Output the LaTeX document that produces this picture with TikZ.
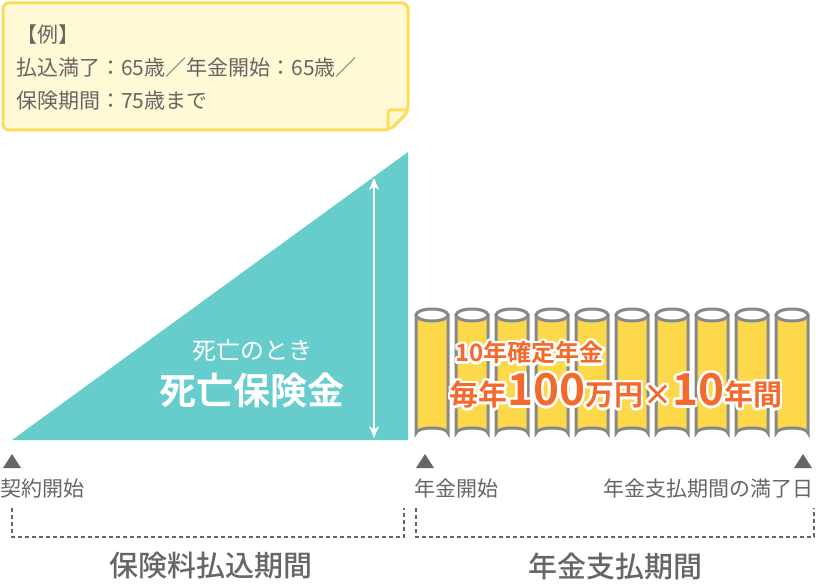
\documentclass[tikz,border=0pt]{standalone}
\usepackage{fontspec}
\setmainfont{Noto Sans CJK JP}
\newfontfamily\cjkbold{Noto Sans CJK JP Bold}
\newfontfamily\cjkmed{Noto Sans CJK JP Medium}
\usepackage{xcolor}
\usepackage[copies]{contour}
\contournumber{16}
\contourlength{2.5pt}
\usetikzlibrary{positioning,arrows.meta}
\definecolor{teal}{HTML}{66CCCC}
\definecolor{gold}{HTML}{FDD84A}
\definecolor{line}{HTML}{888888}
\definecolor{txt}{HTML}{666666}
\definecolor{memo}{HTML}{FFF9D6}
\definecolor{memoline}{HTML}{FCDD5A}
\definecolor{orange}{HTML}{F26A2E}

\begin{document}
\begin{tikzpicture}[x=1pt,y=-1pt,
  label/.style={font=\fontsize{21}{21}\selectfont, text=txt, inner sep=0pt},
  period/.style={font=\fontsize{29}{29}\selectfont\cjkmed, text=txt, inner sep=0pt},
  tick/.style={fill=txt},
  bracket/.style={draw=txt, dash pattern=on 4pt off 3pt, line width=1.3pt},
  coin/.style={draw=line, line width=3pt, fill=gold}
]
\useasboundingbox (0,0) rectangle (816,585);

% Example memo
\draw[memoline, line width=3pt, fill=memo, rounded corners=6pt]
  (3,3) -- (408,3) -- (408,112) -- (390,130) -- (3,130) -- cycle;
\draw[memoline, line width=3pt, rounded corners=3pt] (408,110) -- (388,110) -- (388,130);
\draw[memoline, line width=3pt, line cap=round] (394,126) -- (406,114);
\node[label, anchor=west, align=left, font=\fontsize{21}{33}\selectfont] (memo) at (16,68)
  {【例】\\払込満了：65歳／年金開始：65歳／\\保険期間：75歳まで};

% Death benefit triangle
\fill[teal] (12,440) -- (408,152) -- (408,440) -- cycle;
\coordinate (atop) at (374,178);
\coordinate (abot) at (374,438);
\draw[white, line width=2.5pt, {Stealth[length=12pt,width=10pt]}-{Stealth[length=12pt,width=10pt]}] (atop) -- (abot);
\node[font=\fontsize{24}{24}\selectfont, text=white] (death) at (252,350) {死亡のとき};
\node[font=\fontsize{37}{37}\selectfont\cjkbold, text=white, below=5pt of death] (benefit) {死亡保険金};

% Annuity coins
\foreach \i in {0,...,9} {
  \pgfmathsetmacro{\cx}{432+40*\i}
  \draw[coin] (\cx-16,315) -- (\cx-16,433) arc[start angle=180, end angle=360, x radius=16, y radius=5]
    -- (\cx+16,315);
  \draw[coin, fill=white] (\cx,315) ellipse[x radius=16, y radius=6];
}
\node[font=\fontsize{24}{24}\selectfont\cjkbold, text=orange, anchor=west] (sure) at (452,354)
  {\contour{white}{10年確定年金}};
\node[font=\fontsize{29}{29}\selectfont\cjkbold, text=orange, anchor=west] (amount) at (446,392)
  {\contour{white}{毎年}\contour{white}{\fontsize{44}{44}\selectfont 100}\contour{white}{万円×}\contour{white}{\fontsize{44}{44}\selectfont 10}\contour{white}{年間}};

% Time marks
\fill[tick] (3,468) -- (21,468) -- (12,454) -- cycle;
\fill[tick] (416,468) -- (434,468) -- (425,454) -- cycle;
\fill[tick] (794,468) -- (812,468) -- (803,454) -- cycle;
\node[label, anchor=west] (start) at (0,489) {契約開始};
\node[label, anchor=west] (annstart) at (414,489) {年金開始};
\node[label, anchor=east] (annend) at (814,489) {年金支払期間の満了日};

% Periods
\draw[bracket] (12,508) -- (12,537) -- (404,537) -- (404,508);
\draw[bracket] (416,508) -- (416,537) -- (814,537) -- (814,508);
\node[period] (paying) at (211,566) {保険料払込期間};
\node[period] (paying2) at (615,566) {年金支払期間};
\end{tikzpicture}
\end{document}
